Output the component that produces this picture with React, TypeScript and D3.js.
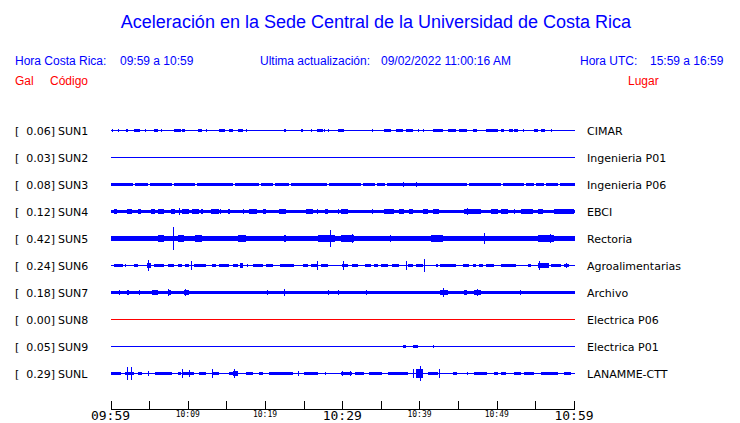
import React from "react";
import * as d3 from "d3";

// ---------- data ----------
const stations = ["SUN1", "SUN2", "SUN3", "SUN4", "SUN5", "SUN6", "SUN7", "SUN8", "SUN9", "SUNL"];
const places = ["CIMAR", "Ingenieria P01", "Ingenieria P06", "EBCI", "Rectoria", "Agroalimentarias", "Archivo", "Electrica P06", "Electrica P01", "LANAMME-CTT"];
const peaks = [0.06, 0.03, 0.08, 0.12, 0.42, 0.24, 0.18, 0.0, 0.05, 0.29];
// background noise half-amplitude (Gal)
const noise = [0.015, 0.01, 0.06, 0.05, 0.08, 0.015, 0.06, 0.0, 0.01, 0.015];
const dead = [false, false, false, false, false, false, false, true, false, false];

// bursts: [startMin, endMin, amplitude Gal]
const sun1: number[][] = [[0.2,0.3,0.05],[1.0,1.1,0.04],[2.0,2.3,0.05],[3.1,3.8,0.05],[4.5,4.6,0.04],[5.6,6.2,0.05],[6.6,6.7,0.04],[8.2,9.1,0.05],[9.3,9.7,0.04],[11.3,11.9,0.06],[12.3,12.4,0.04],[13.1,13.2,0.03],[14.1,14.8,0.05],[15.3,15.8,0.04],[16.5,17.1,0.04],[17.5,17.6,0.04],[21.0,21.1,0.03],[22.4,22.7,0.06],[24.6,24.9,0.06],[25.9,26.0,0.04],[26.7,27.5,0.05],[27.7,27.8,0.06],[28.2,28.3,0.04],[29.5,30.2,0.05],[30.9,31.0,0.03],[33.9,34.0,0.04],[35.4,36.3,0.05],[36.9,37.8,0.05],[38.2,39.1,0.04],[39.8,39.9,0.04],[40.4,40.5,0.04],[41.1,41.2,0.03],[41.8,43.1,0.05],[43.7,44.7,0.04],[45.1,46.2,0.04],[46.9,47.5,0.04],[48.6,50.1,0.04],[50.5,50.9,0.04],[51.6,52.1,0.05],[52.2,52.7,0.04],[53.4,53.5,0.04],[54.8,55.3,0.04],[55.7,56.3,0.05],[57.0,57.1,0.04]];
const sun2: number[][] = [[12.2,12.3,0.03],[16.7,16.8,0.03],[37.9,38.2,0.03],[39.5,39.6,0.03],[41.8,41.9,0.02]];
const sun3: number[][] = [[37.9,38.0,0.1],[39.6,39.7,0.1]];
const sun4: number[][] = [[0.4,0.9,0.09],[2.2,2.8,0.1],[3.5,3.9,0.08],[5.2,5.8,0.09],[6.2,6.9,0.09],[7.8,8.4,0.08],[8.9,9.0,0.12],[9.3,10.1,0.09],[10.6,11.4,0.1],[11.7,12.0,0.08],[13.0,14.0,0.09],[14.2,14.3,0.08],[15.2,15.5,0.08],[17.1,17.2,0.1],[17.9,19.0,0.09],[19.7,20.1,0.08],[21.8,22.7,0.09],[25.3,26.2,0.09],[26.7,26.8,0.1],[27.8,28.2,0.08],[29.5,29.6,0.09],[29.8,30.7,0.09],[33.9,34.0,0.08],[35.4,36.7,0.09],[37.3,38.0,0.09],[38.6,39.2,0.09],[40.5,41.1,0.08],[41.8,42.5,0.08],[45.7,47.9,0.09],[46.1,46.2,0.12],[49.2,50.1,0.08],[50.5,51.4,0.08],[52.2,52.3,0.08],[53.1,54.0,0.09],[54.1,54.7,0.08],[55.4,56.0,0.08],[57.4,60,0.09]];
const sun5: number[][] = [[0.9,2.1,0.11],[3.5,4.5,0.11],[6.2,6.9,0.12],[8.15,8.25,0.42],[8.7,9.5,0.12],[11.0,11.9,0.12],[13.6,14.9,0.11],[16.5,17.5,0.12],[17.9,18.4,0.1],[19.7,20.1,0.1],[22.4,22.7,0.12],[23.7,25.6,0.11],[26.9,29.1,0.13],[28.4,28.6,0.3],[29.8,31.5,0.12],[31.3,31.4,0.18],[34.1,35.0,0.11],[36.2,36.3,0.13],[36.9,37.6,0.11],[39.2,40.4,0.11],[41.5,43.1,0.12],[44.4,45.3,0.11],[46.2,47.0,0.11],[48.3,48.4,0.2],[51.4,52.7,0.11],[55.3,57.4,0.12],[56.9,57.0,0.15],[57.9,60,0.11]];
const sun6: number[][] = [[0.5,1.6,0.06],[1.9,2.0,0.04],[3.1,3.6,0.06],[4.7,5.2,0.08],[4.9,5.0,0.2],[5.6,6.9,0.06],[7.5,8.2,0.07],[8.7,9.3,0.06],[9.7,10.1,0.05],[10.4,10.5,0.18],[10.8,12.3,0.06],[13.1,13.6,0.05],[14.1,15.3,0.06],[15.8,16.5,0.06],[16.8,17.2,0.1],[17.7,17.8,0.05],[18.4,19.7,0.06],[20.1,21.1,0.06],[22.0,23.7,0.06],[24.9,25.6,0.06],[26.0,26.9,0.07],[26.7,26.8,0.16],[27.3,28.2,0.06],[30.0,30.7,0.06],[30.1,30.2,0.18],[31.3,32.1,0.06],[33.0,33.7,0.05],[34.1,34.6,0.06],[35.0,35.9,0.06],[36.5,37.3,0.06],[38.2,38.3,0.18],[38.5,39.2,0.07],[39.5,40.5,0.07],[40.6,40.7,0.24],[42.1,42.4,0.05],[42.7,44.7,0.05],[45.6,46.4,0.05],[46.9,47.3,0.05],[47.7,48.2,0.05],[48.6,49.6,0.05],[50.5,52.5,0.05],[54.0,54.4,0.04],[55.4,56.7,0.08],[55.5,55.6,0.16],[57.0,58.3,0.06],[58.7,59.3,0.07],[58.9,59.0,0.1]];
const sun7: number[][] = [[0,0.9,0.07],[1.1,1.2,0.09],[2.2,2.4,0.09],[2.8,4.3,0.07],[3.7,3.8,0.1],[5.4,6.1,0.08],[7.4,7.8,0.08],[7.5,7.6,0.12],[9.5,10.1,0.08],[9.7,9.8,0.14],[10.4,11.3,0.07],[13.3,14.0,0.07],[20.3,20.4,0.08],[21.4,22.9,0.07],[22.4,22.5,0.12],[24.6,24.7,0.07],[28.2,28.3,0.08],[29.4,29.5,0.08],[31.3,31.4,0.07],[33.1,33.2,0.1],[38.4,38.5,0.07],[41.0,41.1,0.07],[42.7,43.7,0.08],[43.1,43.2,0.17],[45.7,46.2,0.09],[47.0,47.9,0.09],[47.5,47.6,0.14],[51.1,51.2,0.07],[53.0,53.1,0.08],[54.6,54.7,0.07],[58.6,58.7,0.07]];
const sun8: number[][] = [];
const sun9: number[][] = [[1.3,1.6,0.03],[3.7,3.8,0.02],[5.8,5.9,0.02],[6.3,6.4,0.02],[7.7,7.8,0.02],[10.6,10.7,0.03],[11.5,11.6,0.02],[12.3,12.4,0.03],[12.7,12.8,0.03],[19.5,19.6,0.02],[19.8,19.9,0.03],[29.5,29.8,0.03],[37.8,38.2,0.04],[39.2,39.8,0.04],[41.8,41.9,0.04],[45.2,45.3,0.02]];
const sunL: number[][] = [[0,1.3,0.05],[1.9,3.0,0.06],[2.2,2.3,0.23],[2.7,2.8,0.23],[3.6,4.1,0.05],[4.9,5.0,0.1],[5.8,8.0,0.05],[8.7,9.1,0.05],[9.2,9.3,0.16],[9.3,10.8,0.06],[10.2,10.3,0.12],[11.4,12.3,0.06],[13.1,13.2,0.16],[13.3,14.0,0.05],[15.3,15.8,0.05],[15.8,16.5,0.09],[16.0,16.1,0.18],[17.5,18.4,0.05],[19.2,19.7,0.05],[20.5,23.6,0.05],[24.3,24.4,0.08],[25.0,26.9,0.05],[27.8,27.9,0.05],[29.8,31.3,0.05],[30.0,30.1,0.08],[31.0,31.1,0.09],[31.7,32.8,0.05],[33.4,35.2,0.05],[35.9,38.5,0.05],[39.1,39.2,0.18],[39.5,40.4,0.15],[40.1,40.2,0.29],[41.1,42.4,0.06],[42.5,42.6,0.15],[44.4,44.9,0.05],[46.1,46.2,0.07],[47.0,48.8,0.05],[49.6,50.1,0.05],[50.5,51.2,0.05],[52.2,53.1,0.05],[53.5,54.8,0.05],[55.7,57.9,0.05],[58.7,59.6,0.05]];
const bursts = [sun1, sun2, sun3, sun4, sun5, sun6, sun7, sun8, sun9, sunL];
// quiet moments in the SUN3 noise band (minutes)
const sun3Quiet = [2.85, 4.9, 8.0, 10.9, 15.9, 19.2, 21.0, 23.1, 28.0, 32.4, 34.3, 35.5, 46.2, 50.5, 53.5, 54.8, 56.1, 57.9];

const tickMinutes = d3.range(0, 61, 5);
const tickLabels = ["09:59", "", "10:09", "", "10:19", "", "10:29", "", "10:39", "", "10:49", "", "10:59"];
const bigTicks = ["09:59", "10:29", "10:59"];

// ---------- layout ----------
const W = 740, H = 423;
const BLUE = "#0000ff";
const RED = "#ff0000";

export default function App() {
  const x = d3.scaleLinear().domain([0, 60]).range([110.5, 574]);
  const row = d3.scaleLinear().domain([0, 9]).range([130.5, 373.5]);
  const amp = d3.scaleLinear().domain([0, 0.5]).range([0, 13.5]);

  const band = (a: number) => Math.max(1, 2 * amp(a));

  return (
    <svg width={W} height={H} style={{ position: "absolute", left: 0, top: 0, background: "#fff" }}
      fontFamily="'Liberation Sans', Arial, sans-serif">
      <text x={376} y={28} textAnchor="middle" fontSize={18} fill={BLUE}>
        Aceleración en la Sede Central de la Universidad de Costa Rica
      </text>
      <g fontSize={12} fill={BLUE}>
        <text x={15} y={65}>Hora Costa Rica:</text>
        <text x={120} y={65}>09:59 a 10:59</text>
        <text x={260} y={65}>Ultima actualización:</text>
        <text x={381} y={65}>09/02/2022 11:00:16 AM</text>
        <text x={580} y={65}>Hora UTC:</text>
        <text x={650} y={65}>15:59 a 16:59</text>
      </g>
      <g fontSize={12} fill={RED}>
        <text x={15} y={85}>Gal</text>
        <text x={50} y={85}>Código</text>
        <text x={628} y={85}>Lugar</text>
      </g>

      {stations.map((s, i) => {
        const y0 = row(i);
        const color = dead[i] ? RED : BLUE;
        const bh = band(noise[i]);
        return (
          <g key={s} shapeRendering="crispEdges">
            <text x={15} y={y0 + 4} fontFamily="'DejaVu Sans', sans-serif" fontSize={11} fill="#000">[</text>
            <text x={55} y={y0 + 4} textAnchor="end" fontFamily="'DejaVu Sans', sans-serif" fontSize={11} fill="#000">
              {peaks[i].toFixed(2)}]
            </text>
            <text x={58} y={y0 + 4} fontFamily="'DejaVu Sans', sans-serif" fontSize={11} fill="#000">{s}</text>
            <text x={587} y={y0 + 4} fontFamily="'DejaVu Sans', sans-serif" fontSize={11} fill="#000">{places[i]}</text>

            <rect x={x(0)} width={x(60) + 1 - x(0)} y={y0 - bh / 2} height={bh} fill={color} />
            {i === 2 && sun3Quiet.map((m, k) => (
              <g key={k}>
                <rect x={x(m)} width={2} y={y0 - bh / 2} height={bh} fill="#fff" />
                <rect x={x(m)} width={2} y={y0 - 0.5} height={1} fill={color} />
              </g>
            ))}
            {bursts[i].map((b, k) => {
              const h = band(b[2]);
              return (
                <rect key={k} x={x(b[0])} width={Math.max(1, x(b[1]) - x(b[0]))}
                  y={y0 - h / 2} height={h} fill={color} />
              );
            })}
          </g>
        );
      })}

      <g shapeRendering="crispEdges">
        <line x1={x(0)} x2={x(60)} y1={409.5} y2={409.5} stroke="#000" />
        {tickMinutes.map((m) => (
          <line key={m} x1={Math.round(x(m)) + 0.5} x2={Math.round(x(m)) + 0.5} y1={401} y2={409.5} stroke="#000" />
        ))}
      </g>
      <g fontFamily="'DejaVu Sans Mono', monospace" fill="#000">
        {tickMinutes.map((m, k) => {
          const lbl = tickLabels[k];
          if (!lbl) return null;
          const big = bigTicks.includes(lbl);
          return (
            <text key={m} x={x(m)} y={big ? 420 : 417}
              textAnchor="middle" fontSize={big ? 13 : 8}>{lbl}</text>
          );
        })}
      </g>
    </svg>
  );
}
